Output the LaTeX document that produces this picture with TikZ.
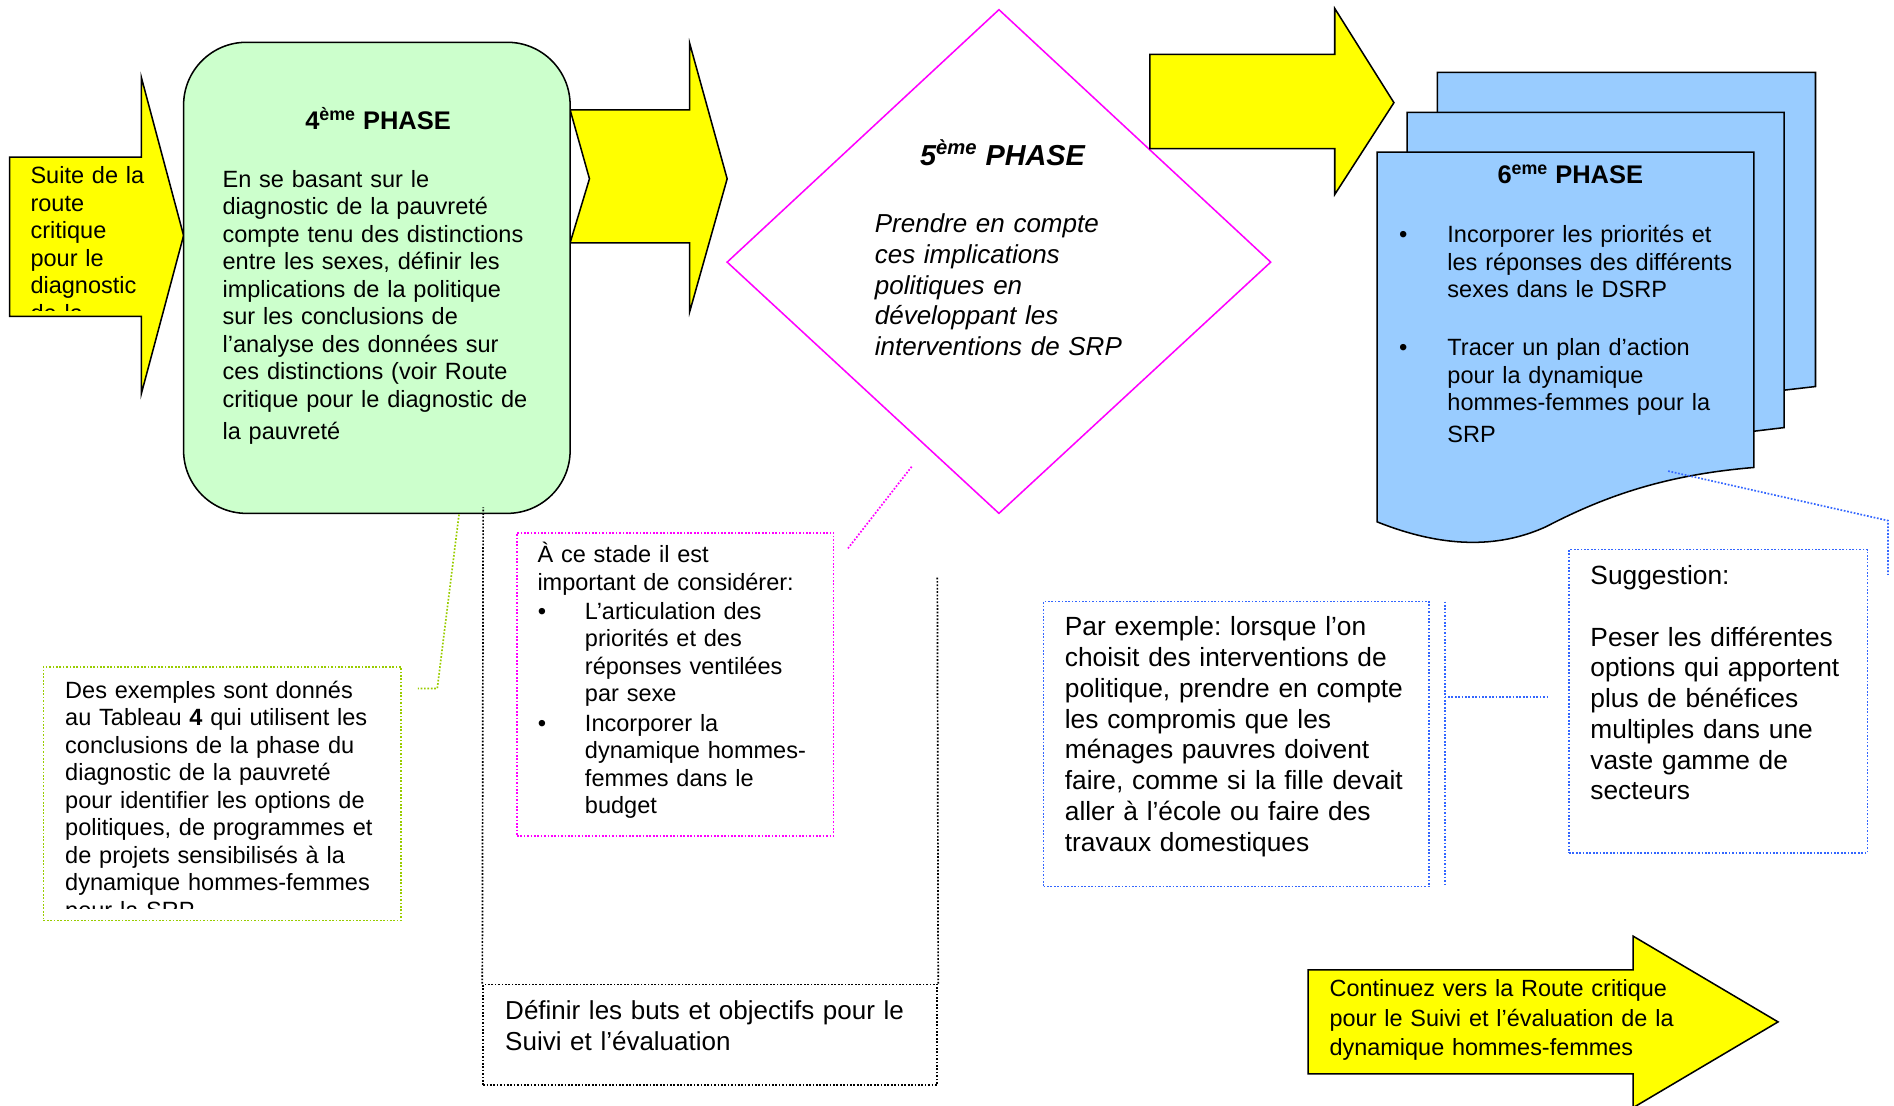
\documentclass[tikz,border=0pt]{standalone}
\usepackage{fontspec}
\setmainfont{Liberation Sans}
\frenchspacing
\usetikzlibrary{positioning}
\usetikzlibrary{fit}

\definecolor{jaune}{RGB}{255,255,0}
\definecolor{vertclair}{RGB}{204,255,204}
\definecolor{bleuclair}{RGB}{153,204,255}
\definecolor{rose}{RGB}{255,0,255}
\definecolor{vertpomme}{RGB}{153,204,0}
\definecolor{bleunote}{RGB}{51,102,255}

\begin{document}
\begin{tikzpicture}[x=0.025cm, y=-0.025cm,
			fleche/.style={draw, fill=jaune, line width=0.9pt, line join=miter},
			feuille/.style={draw, fill=bleuclair, line width=0.9pt},
			note/.style={densely dotted, line width=1pt},
			cadre/.style={note, inner sep=0pt},
			txt/.style={anchor=base west, inner sep=0pt, align=left, text width=9cm, font=\fontsize{13.85}{16.2}\selectfont},
			gtxt/.style={txt, font=\fontsize{15.5}{18.1}\selectfont},
			titre/.style={anchor=base, inner sep=0pt, font=\fontsize{15}{18}\selectfont\bfseries},
			puce/.style={anchor=base west, inner sep=0pt, font=\fontsize{14}{16.2}\selectfont}]
			\useasboundingbox (0,0) rectangle (1568,915);
			\draw[fleche] (8,130) -- (117,130) -- (117,64) -- (152,195) -- (117,326) -- (117,262) -- (8,262) -- cycle;
			\begin{scope}
				\clip (8,130) rectangle (140,257);
				\node[txt](suite) at (25,152) {Suite de la\\route\\critique\\pour le\\diagnostic\\de la};
			\end{scope}
			\draw[fleche] (472,91) -- (571,91) -- (571,36) -- (602,148) -- (571,258) -- (571,201) -- (472,201) -- (488,148) -- cycle;
			\node[fit={(152,35) (472,425)}, inner sep=0pt, draw, fill=vertclair, rounded corners=1.3cm, line width=0.9pt](ph4){};
			\node[titre](t4) at (313,107.5) {4\textsuperscript{ème} PHASE};
			\node[txt](d4) at (184,155) {En se basant sur le\\diagnostic de la pauvreté\\compte tenu des distinctions\\entre les sexes, définir les\\implications de la politique\\sur les conclusions de\\l’analyse des données sur\\ces distinctions (voir Route\\critique pour le diagnostic de\\[2.5pt]la pauvreté};
			\draw[rose, line width=0.9pt, fill=white] (827,8) -- (1052,217) -- (827,425) -- (602,217) -- cycle;
			\node[titre, font=\fontsize{17}{20}\selectfont\bfseries\itshape](t5) at (830,137) {5\textsuperscript{ème} PHASE};
			\node[gtxt, font=\fontsize{15.3}{18.1}\selectfont\itshape](d5) at (724,192.5) {Prendre en compte\\ces implications\\politiques en\\développant les\\interventions de SRP};
			\draw[fleche] (952,45) -- (1105,45) -- (1105,7) -- (1154,85) -- (1105,161) -- (1105,123) -- (952,123) -- cycle;
			\draw[feuille] (1190,60) -- (1503,60) -- (1503,320) -- (1477,323) -- (1190,345) -- cycle;
			\draw[feuille] (1165,93) -- (1477,93) -- (1477,354) -- (1452,357) -- (1165,378) -- cycle;
			\draw[feuille] (1140,126) -- (1452,126) -- (1452,387) .. controls (1380,393) and (1330,410) .. (1280,436) .. controls (1245,452) and (1200,456) .. (1140,432) -- cycle;
			\node[titre](t6) at (1300,152) {6\textsuperscript{eme} PHASE};
			\node[puce](b61) at (1158,201) {\textbullet};
			\node[txt](d61) at (1198,201) {Incorporer les priorités et\\les réponses des différents\\sexes dans le DSRP};
			\node[puce](b62) at (1158,294.5) {\textbullet};
			\node[txt](d62) at (1198,294.5) {Tracer un plan d’action\\pour la dynamique\\hommes-femmes pour la\\[2.5pt]SRP};
			\node[fit={(36,552) (332,762)}, cadre, draw=vertpomme](ex4){};
			\begin{scope}
				\clip (36,552) rectangle (332,752);
				\node[txt](dex4) at (53.7,578) {Des exemples sont donnés\\au Tableau \textbf{4} qui utilisent les\\conclusions de la phase du\\diagnostic de la pauvreté\\pour identifier les options de\\politiques, de programmes et\\de projets sensibilisés à la\\dynamique hommes-femmes\\pour la SRP};
			\end{scope}
			\coordinate (g0) at (380,426);
			\coordinate (g1) at (362,570);
			\coordinate (g2) at (346,570);
			\draw[note, vertpomme] (g0) -- (g1) -- (g2);
			\node[fit={(400,815) (776,898)}, cadre, draw](se){};
			\node[gtxt, font=\fontsize{15.3}{18.1}\selectfont](dse) at (418,844) {Définir les buts et objectifs pour le\\Suivi et l’évaluation};
			\coordinate (k0) at (400,420);
			\coordinate (k1) at (776,478);
			\draw[note] (se.north west) -- (k0);
			\draw[note] (se.north east) -- (k1);
			\node[fit={(428,441) (690,692)}, cadre, draw=rose](cons){};
			\node[txt](dcons) at (444.7,466) {À ce stade il est\\important de considérer:};
			\node[puce](b51) at (445,512.6) {\textbullet};
			\node[txt](d51) at (484,512.6) {L’articulation des\\priorités et des\\réponses ventilées\\par sexe};
			\node[puce](b52) at (445,605.4) {\textbullet};
			\node[txt](d52) at (484,605.4) {Incorporer la\\dynamique hommes-\\femmes dans le\\budget};
			\coordinate (m0) at (702,454);
			\coordinate (m1) at (755,386);
			\draw[note, rose] (m0) -- (m1);
			\node[fit={(864,498) (1183,734)}, cadre, draw=bleunote](pex){};
			\node[gtxt](dpex) at (881.3,526.5) {Par exemple: lorsque l’on\\choisit des interventions de\\politique, prendre en compte\\les compromis que les\\ménages pauvres doivent\\faire, comme si la fille devait\\aller à l’école ou faire des\\travaux domestiques};
			\coordinate (q0) at (1196,498);
			\coordinate (q1) at (1196,734);
			\coordinate (q2) at (1196,577);
			\coordinate (q3) at (1283,577);
			\draw[note, bleunote] (q0) -- (q1);
			\draw[note, bleunote] (q2) -- (q3);
			\node[fit={(1299,455) (1546,706)}, cadre, draw=bleunote](sug){};
			\node[gtxt](dsug) at (1316.4,484) {Suggestion:\\[18.1pt]Peser les différentes\\options qui apportent\\plus de bénéfices\\multiples dans une\\vaste gamme de\\secteurs};
			\coordinate (s0) at (1381,390);
			\coordinate (s1) at (1563,431);
			\coordinate (s2) at (1563,476);
			\draw[note, bleunote] (s0) -- (s1) -- (s2);
			\draw[fleche] (1083,803) -- (1352,803) -- (1352,775) -- (1472,846) -- (1352,917) -- (1352,889) -- (1083,889) -- cycle;
			\node[txt, font=\fontsize{13.8}{17.5}\selectfont](suivi) at (1100.5,825) {Continuez vers la Route critique\\pour le Suivi et l’évaluation de la\\dynamique hommes-femmes};
	\end{tikzpicture}
\end{document}
